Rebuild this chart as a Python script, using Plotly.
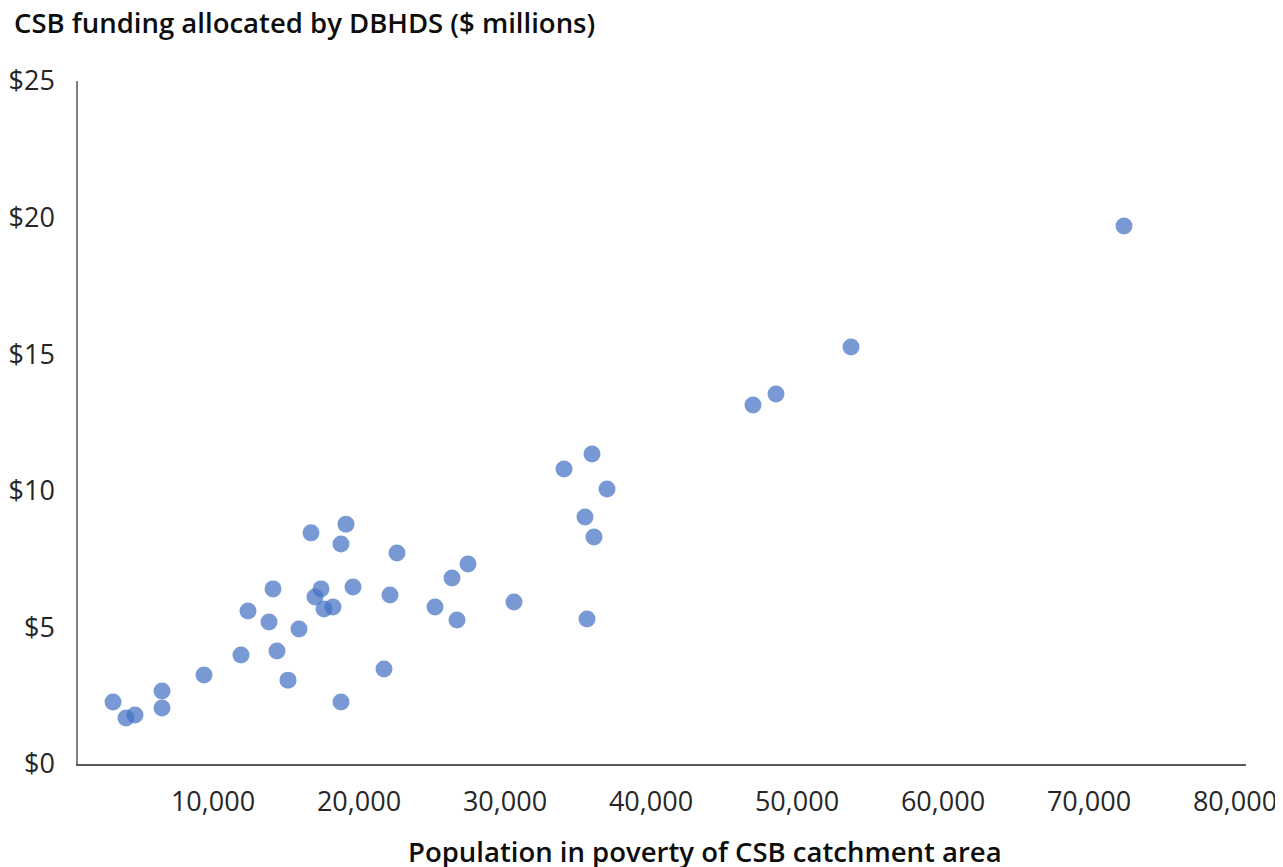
import plotly.graph_objects as go

# Population in poverty of CSB catchment area
population = [71644, 52945, 47808, 46233, 35205, 33288, 36233, 34726, 35342, 34863,
              29863, 26712, 25616, 24452, 25959, 21849, 21370, 20959, 18356, 18014,
              15959, 18836, 16644, 16233, 17466, 16849, 18014, 15137, 13356, 13082,
              13630, 14384, 11644, 11164, 8630, 5753, 5753, 2397, 3288, 3904]
# CSB funding allocated by DBHDS ($ millions)
funding = [19.69, 15.26, 13.54, 13.14, 11.35, 10.80, 10.07, 9.04, 8.31, 5.31,
           5.93, 7.32, 6.81, 5.75, 5.27, 7.72, 6.19, 3.48, 8.78, 8.05,
           8.46, 6.48, 6.41, 6.11, 5.75, 5.67, 2.27, 4.94, 6.41, 5.20,
           4.14, 3.07, 5.60, 3.99, 3.26, 2.67, 2.05, 2.27, 1.68, 1.79]

x_tickvals = [10000, 20000, 30000, 40000, 50000, 60000, 70000, 80000]
x_ticktext = ["10,000", "20,000", "30,000", "40,000", "50,000", "60,000", "70,000", "80,000"]
y_tickvals = [0, 5, 10, 15, 20, 25]
y_ticktext = ["$0", "$5", "$10", "$15", "$20", "$25"]

FONT = "Open Sans"
W, H = 1275, 859
L, R, T, B = 70, 37, 73, 103
PW, PH = W - L - R, H - T - B

fig = go.Figure()
fig.add_trace(go.Scatter(
    x=population, y=funding, mode="markers",
    marker=dict(size=17, color="rgba(68,114,196,0.72)", line=dict(width=0)),
    hoverinfo="x+y", showlegend=False,
))

fig.update_layout(
    width=W, height=H,
    margin=dict(l=L, r=R, t=T, b=B, autoexpand=False),
    paper_bgcolor="white", plot_bgcolor="white",
    font=dict(family=FONT, size=27, color="#262626"),
    xaxis=dict(
        range=[0, 80000], tickvals=x_tickvals, ticktext=x_ticktext,
        showgrid=False, zeroline=False, showline=True, linecolor="#595959", linewidth=1.5,
        ticks="", ticklabelstandoff=13, ticklabelshift=-11, automargin=False,
        tickfont=dict(family=FONT, size=27, color="#262626"),
        fixedrange=True,
    ),
    yaxis=dict(
        range=[0, 25], tickvals=y_tickvals, ticktext=y_ticktext,
        showgrid=False, zeroline=False, showline=True, linecolor="#7f7f7f", linewidth=1.5,
        ticks="", ticklabelstandoff=16, automargin=False,
        tickfont=dict(family=FONT, size=27, color="#262626"),
        fixedrange=True,
    ),
    annotations=[
        dict(text="CSB funding allocated by DBHDS ($ millions)", xref="paper", yref="paper",
             x=(4 - L) / PW, y=1 + (T - 14) / PH, xanchor="left", yanchor="middle", showarrow=False,
             font=dict(family=FONT, size=27.5, color="#0d0d0d", weight=600)),
        dict(text="Population in poverty of CSB catchment area", xref="paper", yref="paper",
             x=(697 - L) / PW, y=-(843 - (H - B)) / PH, xanchor="center", yanchor="middle", showarrow=False,
             font=dict(family=FONT, size=27.5, color="#0d0d0d", weight=600)),
    ],
)

fig.write_html("out.html")
